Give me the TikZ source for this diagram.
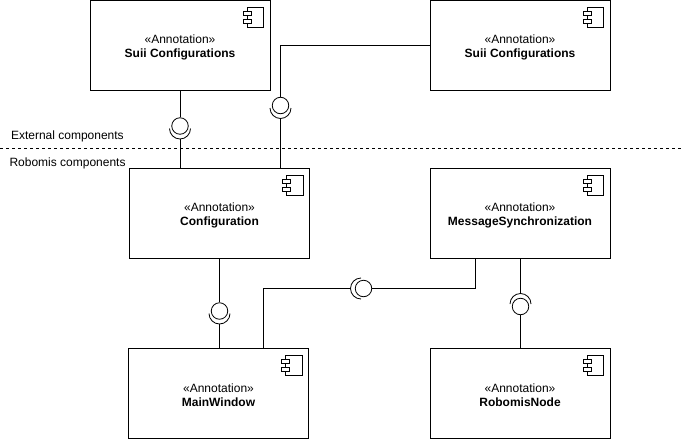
\documentclass[tikz,border=0pt]{standalone}
\usepackage{fontspec}
\setmainfont{Liberation Sans}
\tikzset{
    comp/.style={rectangle, draw, line width=1pt, minimum width=180pt, minimum height=90pt, inner sep=0pt, align=center, font=\fontsize{12}{14}\selectfont},
    ball/.style={circle, draw, line width=.8pt, minimum size=16.5pt, inner sep=0pt},
    sock/.style={line width=.8pt},
    lbl/.style={anchor=west, inner sep=0pt, font=\fontsize{12}{14}\selectfont}
}
\newcommand{\annot}{\rule{0pt}{13pt}«Annotation»}

\begin{document}
\begin{tikzpicture}[x=1pt, y=-1pt, line width=1pt]
    \useasboundingbox (0, 0) rectangle (682, 439);

    % Components
    \node[comp] (suiiA) at (180, 45.5) {\annot\\\textbf{Suii Configurations}};
    \node[comp] (suiiB) at (520, 45.5) {\annot\\\textbf{Suii Configurations}};
    \node[comp] (config) at (219.5, 213.5) {\annot\\\textbf{Configuration}};
    \node[comp] (msgsync) at (520, 213.5) {\annot\\\textbf{MessageSynchronization}};
    \node[comp] (mainwin) at (218.5, 393.5) {\annot\\\textbf{MainWindow}};
    \node[comp] (robnode) at (520, 393.5) {\annot\\\textbf{RobomisNode}};

    % Component icons
    \foreach \n in {suiiA, suiiB, config, msgsync, mainwin, robnode} {
        \draw ([shift={(-23.5, 7)}]\n.north east) rectangle ([shift={(-7, 27)}]\n.north east);
        \draw[fill=white] ([shift={(-27.5, 11)}]\n.north east) rectangle ([shift={(-19.5, 15.5)}]\n.north east);
        \draw[fill=white] ([shift={(-27.5, 19)}]\n.north east) rectangle ([shift={(-19.5, 23.5)}]\n.north east);
    }

    % Boundary
    \coordinate (bndL) at (0, 148.5);
    \coordinate (bndR) at (681, 148.5);
    \draw[dash pattern=on 3pt off 3pt] (bndL) -- (bndR);
    \node[lbl] (ext) at (10.5, 136) {External components};
    \node[lbl] (int) at (9, 163) {Robomis components};

    % Interfaces
    \node[ball] (ball1) at (180, 126) {};
    \node[ball] (ball2) at (280.5, 105.5) {};
    \node[ball] (ball3) at (219.5, 311) {};
    \node[ball] (ball4) at (363.5, 288.5) {};
    \node[ball] (ball5) at (520.5, 306.5) {};

    \draw[sock] ([shift={(-10.5, 2.5)}]ball1.center) arc[start angle=180, end angle=360, radius=10.5pt];
    \draw[sock] ([shift={(-10.5, 2.5)}]ball2.center) arc[start angle=180, end angle=360, radius=10.5pt];
    \draw[sock] ([shift={(-10.5, 2.5)}]ball3.center) arc[start angle=180, end angle=360, radius=10.5pt];
    \draw[sock] ([shift={(-2.5, -10.5)}]ball4.center) arc[start angle=90, end angle=270, radius=10.5pt];
    \draw[sock] ([shift={(-10.5, -2.5)}]ball5.center) arc[start angle=180, end angle=0, radius=10.5pt];

    \coordinate (sock1) at ([yshift=-13pt]ball1.center);
    \coordinate (sock2) at ([yshift=-13pt]ball2.center);
    \coordinate (sock3) at ([yshift=-13pt]ball3.center);
    \coordinate (sock4) at ([xshift=-13pt]ball4.center);
    \coordinate (sock5) at ([yshift=13pt]ball5.center);

    % Connectors
    \draw (suiiA.south -| ball1) -- (ball1.north);
    \draw (sock1) -- (sock1 |- config.north);
    \draw (suiiB.west |- 0, 45.5) -| (ball2.north);
    \draw (sock2) -- (sock2 |- config.north);
    \draw (config.south -| ball3) -- (ball3.north);
    \draw (sock3) -- (sock3 |- mainwin.north);
    \draw (msgsync.south -| 475.5, 0) |- (ball4.east);
    \draw (sock4) -| (263.5, 0 |- mainwin.north);
    \draw (msgsync.south -| ball5) -- (sock5);
    \draw (ball5.south) -- (ball5 |- robnode.north);
\end{tikzpicture}
\end{document}
